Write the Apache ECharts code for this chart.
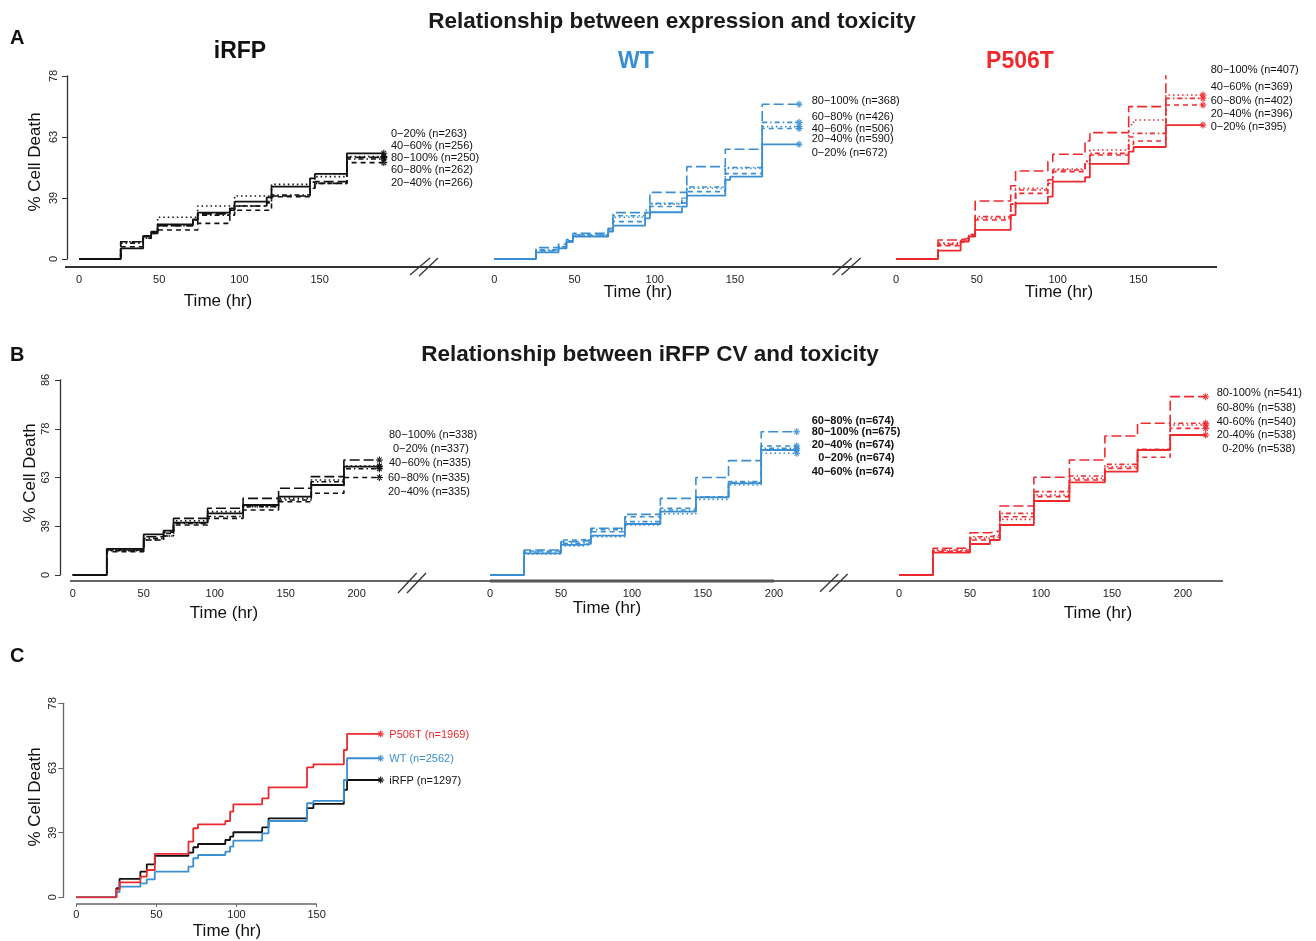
<!DOCTYPE html>
<html>
<head>
<meta charset="utf-8">
<script src="https://cdn.jsdelivr.net/npm/echarts@6/dist/echarts.min.js"></script>
<style>
html,body{margin:0;padding:0;background:#fff;}
#chart{width:1316px;height:941px;}
</style>
</head>
<body>
<div id="chart"></div>
<script>
// ---------------- DATA (cumulative hazard scale; y tick labels show % cell death) ----------------
// group order for each panel's value arrays: 0-20%, 20-40%, 40-60%, 60-80%, 80-100%
const timesA = [0, 26, 40, 45, 49, 71, 74, 94, 97, 117, 120, 144, 147, 167, 190];
const aIrfp = [
  [0, 0.087, 0.183, 0.224, 0.284, 0.325, 0.38, 0.415, 0.47, 0.505, 0.593, 0.661, 0.697, 0.866, 0.866],
  [0, 0.10, 0.17, 0.21, 0.238, 0.238, 0.292, 0.36, 0.40, 0.40, 0.51, 0.58, 0.62, 0.79, 0.79],
  [0, 0.142, 0.19, 0.21, 0.342, 0.342, 0.434, 0.434, 0.516, 0.516, 0.612, 0.63, 0.675, 0.84, 0.84],
  [0, 0.13, 0.17, 0.21, 0.273, 0.30, 0.36, 0.40, 0.434, 0.46, 0.525, 0.58, 0.62, 0.82, 0.82],
  [0, 0.142, 0.19, 0.22, 0.273, 0.32, 0.37, 0.40, 0.435, 0.47, 0.516, 0.60, 0.634, 0.833, 0.833]
];
const aWt = [
  [0, 0.055, 0.087, 0.142, 0.183, 0.224, 0.273, 0.333, 0.383, 0.43, 0.519, 0.648, 0.675, 0.94, 0.94],
  [0, 0.065, 0.095, 0.14, 0.197, 0.23, 0.306, 0.35, 0.43, 0.46, 0.552, 0.70, 0.70, 1.07, 1.07],
  [0, 0.07, 0.10, 0.14, 0.19, 0.24, 0.342, 0.38, 0.45, 0.50, 0.58, 0.743, 0.743, 1.085, 1.085],
  [0, 0.075, 0.10, 0.15, 0.197, 0.25, 0.355, 0.40, 0.456, 0.50, 0.59, 0.75, 0.75, 1.12, 1.12],
  [0, 0.093, 0.12, 0.16, 0.21, 0.25, 0.38, 0.38, 0.546, 0.546, 0.757, 0.899, 0.899, 1.268, 1.268]
];
const aP506t = [
  [0, 0.068, 0.142, 0.183, 0.238, 0.36, 0.456, 0.511, 0.634, 0.67, 0.779, 0.88, 0.918, 1.098, 1.098],
  [0, 0.11, 0.14, 0.19, 0.32, 0.42, 0.538, 0.62, 0.716, 0.78, 0.852, 0.94, 0.967, 1.262, 1.262],
  [0, 0.13, 0.15, 0.20, 0.333, 0.45, 0.58, 0.65, 0.738, 0.80, 0.893, 1.10, 1.139, 1.344, 1.344],
  [0, 0.12, 0.15, 0.20, 0.347, 0.45, 0.566, 0.65, 0.73, 0.80, 0.866, 1.00, 1.03, 1.317, 1.317],
  [0, 0.156, 0.17, 0.20, 0.475, 0.60, 0.721, 0.80, 0.858, 0.967, 1.036, 1.249, 1.249, 1.549, 1.549]
];
const timesB = [0, 24, 50, 64, 71, 95, 120, 145, 168, 191, 216];
const bIrfp = [
  [0, 0.267, 0.417, 0.455, 0.537, 0.632, 0.718, 0.803, 0.923, 1.111, 1.111],
  [0, 0.239, 0.359, 0.427, 0.513, 0.581, 0.667, 0.752, 0.838, 1.00, 1.00],
  [0, 0.256, 0.359, 0.40, 0.557, 0.65, 0.70, 0.786, 0.974, 1.118, 1.118],
  [0, 0.25, 0.376, 0.40, 0.53, 0.60, 0.70, 0.77, 0.957, 1.09, 1.09],
  [0, 0.256, 0.393, 0.44, 0.581, 0.684, 0.786, 0.889, 1.009, 1.18, 1.18]
];
const bWt = [
  [0, 0.222, 0.308, 0.32, 0.403, 0.523, 0.65, 0.797, 0.94, 1.282, 1.282],
  [0, 0.246, 0.359, 0.37, 0.444, 0.598, 0.684, 0.797, 0.947, 1.323, 1.323],
  [0, 0.215, 0.297, 0.31, 0.393, 0.513, 0.627, 0.776, 0.923, 1.248, 1.248],
  [0, 0.236, 0.325, 0.34, 0.465, 0.547, 0.667, 0.803, 0.958, 1.30, 1.30],
  [0, 0.256, 0.342, 0.36, 0.479, 0.622, 0.786, 1.00, 1.173, 1.47, 1.47]
];
const bP506t = [
  [0, 0.229, 0.318, 0.359, 0.513, 0.759, 0.95, 1.06, 1.282, 1.436, 1.436],
  [0, 0.239, 0.359, 0.37, 0.598, 0.804, 0.974, 1.094, 1.207, 1.504, 1.504],
  [0, 0.249, 0.376, 0.39, 0.571, 0.82, 0.991, 1.111, 1.282, 1.538, 1.538],
  [0, 0.256, 0.393, 0.41, 0.632, 0.855, 1.015, 1.135, 1.289, 1.556, 1.556],
  [0, 0.274, 0.434, 0.45, 0.708, 1.002, 1.18, 1.426, 1.556, 1.829, 1.829]
];
const timesC = [0, 25, 27, 40, 44, 49, 70, 73, 76, 93, 96, 98, 116, 120, 144, 148, 167, 169, 190];
const cIrfp  = [0, 0.07, 0.142, 0.198, 0.255, 0.32, 0.345, 0.387, 0.412, 0.443, 0.469, 0.503, 0.54, 0.611, 0.689, 0.722, 0.83, 0.907, 0.907];
const cWt    = [0, 0.04, 0.082, 0.108, 0.139, 0.198, 0.237, 0.302, 0.327, 0.353, 0.392, 0.438, 0.495, 0.59, 0.727, 0.745, 0.907, 1.075, 1.075];
const cP506t = [0, 0.06, 0.116, 0.16, 0.211, 0.335, 0.43, 0.534, 0.564, 0.59, 0.662, 0.719, 0.765, 0.85, 1.005, 1.028, 1.139, 1.263, 1.263];

const yTicksA = ['0', '39', '63', '78'];
const yTicksB = ['0', '39', '63', '78', '86'];
const xTicksA = [0, 50, 100, 150];
const xTicksB = [0, 50, 100, 150, 200];

const labelsAIrfp  = ['0−20% (n=263)', '40−60% (n=256)', '80−100% (n=250)', '60−80% (n=262)', '20−40% (n=266)'];
const labelsAWt    = ['80−100% (n=368)', '60−80% (n=426)', '40−60% (n=506)', '20−40% (n=590)', '0−20% (n=672)'];
const labelsAP506t = ['80−100% (n=407)', '40−60% (n=369)', '60−80% (n=402)', '20−40% (n=396)', '0−20% (n=395)'];
const labelsBIrfp  = ['80−100% (n=338)', '0−20% (n=337)', '40−60% (n=335)', '60−80% (n=335)', '20−40% (n=335)'];
const labelsBWt    = ['60−80% (n=674)', '80−100% (n=675)', '20−40% (n=674)', '0−20% (n=674)', '40−60% (n=674)'];
const labelsBP506t = ['80-100% (n=541)', '60-80% (n=538)', '40-60% (n=540)', '20-40% (n=538)', '0-20% (n=538)'];
const labelsC      = ['P506T (n=1969)', 'WT (n=2562)', 'iRFP (n=1297)'];

// ---------------- STYLE ----------------
const FONT = '"Liberation Sans", Arial, Helvetica, sans-serif';
const BLACK = '#111111', BLUE = '#3a8fd3', RED = '#ee2a2f';
const DASHES = ['solid', [5, 4], [1.5, 3], [1.5, 3, 5, 3], [10, 4]];
const PLUS = 'path://M0,3.4L8,3.4L8,4.6L0,4.6Z M3.4,0L4.6,0L4.6,8L3.4,8Z M1,1.6L1.8,0.8L7,6.4L6.2,7.2Z M7,1.6L6.2,0.8L1,6.4L1.8,7.2Z';

const chart = echarts.init(document.getElementById('chart'), null, {renderer: 'canvas'});

// grids: [left, top, width, height]
const grids = [
  [79, 76, 304.8, 183],     // A iRFP
  [494.3, 76, 304.8, 183],  // A WT
  [896, 76, 307, 183],      // A P506T
  [72.7, 380, 306.7, 195],  // B iRFP
  [490, 380, 306.7, 195],   // B WT
  [899, 380, 306.7, 195],   // B P506T
  [76.3, 703.3, 304.4, 194] // C
];
const xMax = [190, 190, 190, 216, 216, 216, 190];
const yMax = [1.5, 1.5, 1.5, 2, 2, 2, 1.5];
const showY = [true, false, false, true, false, false, true];
const yTickLabels = [yTicksA, null, null, yTicksB, null, null, yTicksA];
const yLabelMargin = [8, 0, 0, 9, 0, 0, 5];
const yOffset = [12, 0, 0, 12.7, 0, 0, 13];
const xOffset = [8, 8, 8, 6, 6, 6, 6.7];
const xLabelMargin = [7, 7, 7, 7, 7, 7, 5];
const axisCol = ['#333', '#333', '#333', '#333', '#333', '#333', '#666'];

const gridOpt = [], xAxes = [], yAxes = [];
grids.forEach((g, i) => {
  const xt = xMax[i] === 190 ? xTicksA : xTicksB;
  gridOpt.push({left: g[0], top: g[1], width: g[2], height: g[3], containLabel: false});
  xAxes.push({
    type: 'value', gridIndex: i, min: 0, max: xMax[i], interval: 50, offset: xOffset[i],
    axisLine: {show: false, onZero: false},
    axisTick: {show: i === 6, length: 3, customValues: xt, lineStyle: {color: '#666'}},
    splitLine: {show: false},
    axisLabel: {margin: xLabelMargin[i], fontFamily: FONT, fontSize: 11, color: '#222', customValues: xt,
      formatter: v => String(v)}
  });
  const labs = yTickLabels[i];
  yAxes.push({
    type: 'value', gridIndex: i, min: 0, max: yMax[i], interval: 0.5,
    show: showY[i], offset: yOffset[i],
    axisLine: {show: true, onZero: false, lineStyle: {color: axisCol[i], width: 1.3}},
    axisTick: {show: true, length: 5, lineStyle: {color: axisCol[i], width: 1}},
    splitLine: {show: false},
    axisLabel: {show: showY[i], rotate: 90, margin: yLabelMargin[i], fontFamily: FONT, fontSize: 11, color: '#222',
      formatter: v => labs ? (labs[Math.round(v / 0.5)] || '') : ''}
  });
});

const series = [];
function addCurve(gi, times, vals, color, dash, width) {
  const data = times.map((t, k) => k === times.length - 1
    ? {value: [t, vals[k]], symbol: PLUS, symbolSize: 7, itemStyle: {color: color}}
    : [t, vals[k]]);
  series.push({
    type: 'line', xAxisIndex: gi, yAxisIndex: gi, step: 'end', data: data,
    symbol: 'none', showSymbol: true, silent: true, animation: false,
    lineStyle: {color: color, width: width || 1.6, type: dash},
    itemStyle: {color: color}, z: 3
  });
}
[[aIrfp, timesA, BLACK, 0], [aWt, timesA, BLUE, 1], [aP506t, timesA, RED, 2],
 [bIrfp, timesB, BLACK, 3], [bWt, timesB, BLUE, 4], [bP506t, timesB, RED, 5]].forEach(p => {
  p[0].forEach((vals, gIdx) => addCurve(p[3], p[1], vals, p[2], DASHES[gIdx], gIdx === 0 ? 1.8 : 1.6));
});
addCurve(6, timesC, cIrfp, BLACK, 'solid', 1.8);
addCurve(6, timesC, cWt, BLUE, 'solid', 1.8);
addCurve(6, timesC, cP506t, RED, 'solid', 1.8);

// ---------------- ANNOTATIONS ----------------
const graphic = [];
function txt(x, y, s, opt) {
  opt = opt || {};
  graphic.push({type: 'text', x: x, y: y, rotation: opt.rot || 0, silent: true, z: 10,
    style: {text: s, fill: opt.color || '#111', font: (opt.weight || 'normal') + ' ' + (opt.size || 11) + 'px ' + FONT,
      textAlign: opt.align || 'left', textVerticalAlign: 'middle'}});
}
function line(x1, y1, x2, y2, w, c) {
  graphic.push({type: 'line', silent: true, z: 5, shape: {x1: x1, y1: y1, x2: x2, y2: y2}, style: {stroke: c || '#333', lineWidth: w}});
}
// titles
txt(672, 22, 'Relationship between expression and toxicity', {size: 22.5, weight: 'bold', align: 'center', color: '#1a1a1a'});
txt(650, 355, 'Relationship between iRFP CV and toxicity', {size: 22.5, weight: 'bold', align: 'center', color: '#1a1a1a'});
txt(10, 38, 'A', {size: 20, weight: 'bold'});
txt(10, 355, 'B', {size: 20, weight: 'bold'});
txt(10, 656, 'C', {size: 20, weight: 'bold'});
txt(240, 52, 'iRFP', {size: 23, weight: 'bold', align: 'center'});
txt(636, 62, 'WT', {size: 23, weight: 'bold', align: 'center', color: BLUE});
txt(1020, 62, 'P506T', {size: 23, weight: 'bold', align: 'center', color: RED});
// axis titles
txt(35, 162, '% Cell Death', {size: 17, align: 'center', rot: Math.PI / 2});
txt(30, 473, '% Cell Death', {size: 17, align: 'center', rot: Math.PI / 2});
txt(35, 797, '% Cell Death', {size: 17, align: 'center', rot: Math.PI / 2});
[[218, 301], [638, 292], [1059, 292], [224, 613], [607, 608], [1098, 613], [227, 931]].forEach(p =>
  txt(p[0], p[1], 'Time (hr)', {size: 17, align: 'center'}));
// end labels
labelsAIrfp.forEach((s, k) => txt(391, [134, 146, 158, 170, 183][k], s));
labelsAWt.forEach((s, k) => txt(811.7, [100.7, 117.3, 129, 139.3, 153.3][k], s));
labelsAP506t.forEach((s, k) => txt(1210.7, [70, 87.3, 100.7, 114, 127.3][k], s));
labelsBIrfp.forEach((s, k) => txt([389, 393, 389, 388, 388][k], [435, 449, 462.7, 478.3, 491.7][k], s));
labelsBWt.forEach((s, k) => txt([811.7, 811.7, 811.7, 818.3, 811.7][k], [421, 432.3, 445, 457.7, 471.7][k], s, {weight: 'bold'}));
labelsBP506t.forEach((s, k) => txt([1216.7, 1216.7, 1216.7, 1216.7, 1222.3][k], [393.3, 408.3, 421.7, 435, 449.3][k], s));
labelsC.forEach((s, k) => txt(389.3, [735, 759.3, 780.7][k], s, {color: [RED, BLUE, '#111'][k]}));
// broken x axis lines
line(65, 267, 1217, 267, 2, '#333');
line(410, 275, 430, 258, 1.3); line(419, 276, 438, 258, 1.3);
line(832.7, 275, 851.7, 258, 1.3); line(841.7, 275, 860.7, 258, 1.3);
line(70, 581, 1223, 581, 1.6, '#333');
line(490, 581, 774, 581, 3, '#555');
line(398, 593, 416.7, 573, 1.3); line(407, 593, 426, 573, 1.3);
line(820, 591.7, 838.3, 574, 1.3); line(829.3, 591.7, 847.7, 574, 1.3);
line(76.3, 904, 316.7, 904, 1.4, '#666');

chart.setOption({
  animation: false,
  backgroundColor: '#ffffff',
  grid: gridOpt, xAxis: xAxes, yAxis: yAxes, series: series, graphic: graphic
});
</script>
</body>
</html>
